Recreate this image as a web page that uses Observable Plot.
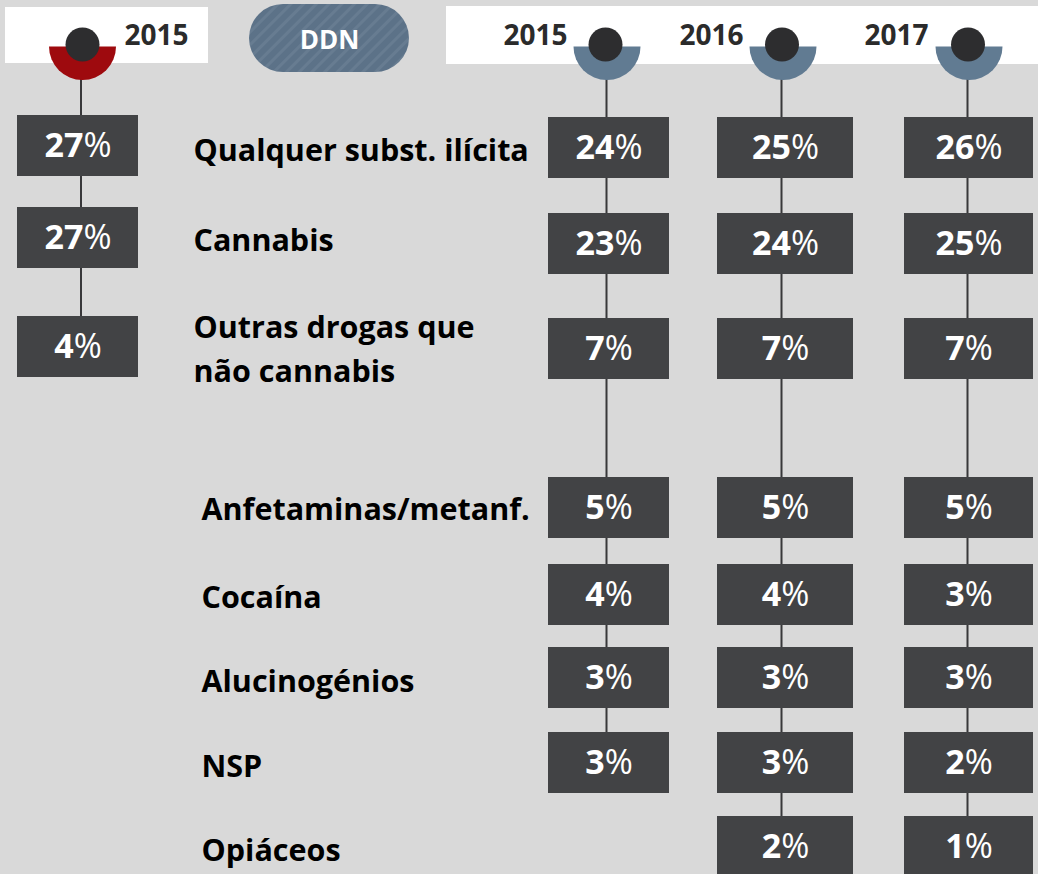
<!DOCTYPE html>
<html><head><meta charset="utf-8">
<script src="https://cdn.jsdelivr.net/npm/d3@7"></script>
<script src="https://cdn.jsdelivr.net/npm/@observablehq/plot@0.6"></script>
<style>
html,body{margin:0;padding:0;background:#d9d9d9;}
#chart{width:1038px;height:874px;overflow:hidden;}
</style>
</head><body><div id="chart"></div>
<script>
// ---------- data ----------
const substances = [
  "Qualquer subst. ilícita",
  "Cannabis",
  "Outras drogas que\nnão cannabis",
  "Anfetaminas/metanf.",
  "Cocaína",
  "Alucinogénios",
  "NSP",
  "Opiáceos"
];
const redSeries2015 = [27, 27, 4];               // left (red) column, 2015
const ddn2015 = [24, 23, 7, 5, 4, 3, 3, null];   // DDN 2015
const ddn2016 = [25, 24, 7, 5, 4, 3, 3, 2];      // DDN 2016
const ddn2017 = [26, 25, 7, 5, 3, 3, 2, 1];      // DDN 2017
const seriesYears = ["2015", "2015", "2016", "2017"];
const groupLabel = "DDN";

// ---------- layout (pixels) ----------
const W = 1038, H = 874;
const colCenter = [77.5, 608.5, 785, 968.5];
const colWidth  = [121, 121, 136, 129];
const stemX     = [80.5, 606, 781, 967];
const discX     = [82, 606.5, 782.5, 968.5];
const knobX     = [82, 605, 781.5, 967.5];
const discColor = ["#9e0a0e", "#617b92", "#617b92", "#617b92"];
const yearRight = [188, 567, 743, 928];
const rowTopLeft  = [115, 207, 316];
const rowTopRight = [117, 213, 318, 477, 564, 647, 732, 816];
const labelY = [146, 236, 345, 505, 593, 677, 762, 846];
const labelX = [193, 193, 193, 201, 201, 201, 201, 201];
const boxH = 61;
const discY = 46, discR = 33.5, knobY = 44, knobR = 17;
const headerBands = [
  {x1: 5, x2: 208, y1: 7, y2: 63},
  {x1: 446, x2: 1045, y1: 6, y2: 64}
];
const pill = {x1: 249, x2: 409, y1: 4, y2: 72, cx: 329, cy: 40};

// ---------- derived tables ----------
const seriesValues = [redSeries2015, ddn2015, ddn2016, ddn2017];
const cells = [];
const stems = [];
seriesValues.forEach((vals, s) => {
  const tops = s === 0 ? rowTopLeft : rowTopRight;
  let last = 0;
  vals.forEach((v, i) => {
    if (v == null) return;
    const top = tops[i];
    last = top;
    cells.push({
      s, i, v,
      x1: colCenter[s] - colWidth[s] / 2, x2: colCenter[s] + colWidth[s] / 2,
      y1: top, y2: top + boxH, cx: colCenter[s], cy: top + boxH / 2
    });
  });
  stems.push({x: stemX[s], y1: discY + discR - 1, y2: last + 2});
});
const discs = seriesYears.map((yr, s) => ({x: discX[s], y: discY, fill: discColor[s]}));
const knobs = seriesYears.map((yr, s) => ({x: knobX[s], y: knobY}));
const years = seriesYears.map((yr, s) => ({x: yearRight[s], y: 36, text: yr}));
const labels = substances.map((t, i) => ({x: labelX[i], y: labelY[i], text: t}));

const halfDisc = {
  draw(ctx, size) {
    const r = Math.sqrt(size / Math.PI);
    ctx.moveTo(r, 0);
    ctx.arc(0, 0, r, 0, Math.PI);
    ctx.closePath();
  }
};

const FONT = "'Open Sans', Lato, sans-serif";

const svg = Plot.plot({
  width: W, height: H, margin: 0,
  style: {background: "#d9d9d9", fontFamily: FONT, overflow: "hidden"},
  x: {type: "linear", domain: [0, W], range: [0, W], axis: null},
  y: {type: "linear", domain: [0, H], range: [0, H], axis: null},
  marks: [
    Plot.rect(headerBands, {x1: "x1", x2: "x2", y1: "y1", y2: "y2", fill: "white"}),
    Plot.rect([pill], {x1: "x1", x2: "x2", y1: "y1", y2: "y2", fill: "url(#ddnStripes)", rx: 34}),
    Plot.text([pill], {x: "cx", y: "cy", text: () => groupLabel, fill: "white",
      fontWeight: "bold", fontSize: 26, fontFamily: FONT}),
    Plot.ruleX(stems, {x: "x", y1: "y1", y2: "y2", stroke: "#38383a", strokeWidth: 2}),
    Plot.dot(discs, {x: "x", y: "y", r: discR, fill: "fill", stroke: "none", symbol: halfDisc}),
    Plot.dot(knobs, {x: "x", y: "y", r: knobR, fill: "#2d2d2f", stroke: "none"}),
    Plot.text(years, {x: "x", y: "y", text: "text", textAnchor: "end", fill: "#2b2b2b",
      fontWeight: "bold", fontSize: 28, fontFamily: FONT}),
    Plot.rect(cells, {x1: "x1", x2: "x2", y1: "y1", y2: "y2", fill: "#424345"}),
    Plot.text(cells, {x: "cx", y: "cy", text: d => d.v + "%", fill: "white",
      fontWeight: "bold", fontSize: 34, fontFamily: FONT}),
    Plot.text(labels, {x: "x", y: "y", text: "text", textAnchor: "start", fill: "#000",
      fontWeight: "bold", fontSize: 30.5, lineHeight: 1.45, fontFamily: FONT})
  ]
});

// stripe pattern for the DDN pill
const defs = d3.select(svg).insert("defs", ":first-child");
const pat = defs.append("pattern").attr("id", "ddnStripes")
  .attr("patternUnits", "userSpaceOnUse").attr("width", 9).attr("height", 9)
  .attr("patternTransform", "rotate(45)");
pat.append("rect").attr("width", 9).attr("height", 9).attr("fill", "#5c7288");
pat.append("rect").attr("width", 3).attr("height", 9).attr("fill", "#677c91");

// lighter % sign like the original
d3.select(svg).selectAll("text").each(function () {
  const t = this.textContent;
  if (/^\d+%$/.test(t) && this.childElementCount === 0) {
    this.textContent = "";
    d3.select(this).append("tspan").text(t.slice(0, -1));
    d3.select(this).append("tspan").attr("font-weight", "normal").text("%");
  }
});

document.getElementById("chart").appendChild(svg);
</script>
</body></html>
